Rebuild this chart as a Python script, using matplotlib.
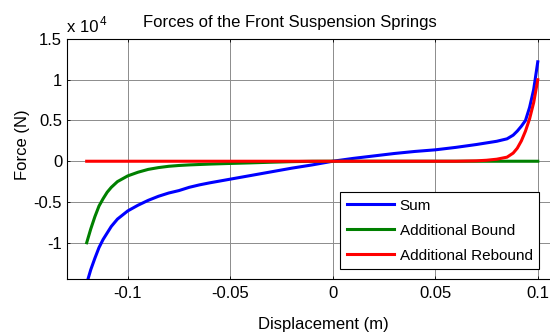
import matplotlib
matplotlib.use("Agg")
import matplotlib.pyplot as plt

plt.rcParams['font.family'] = ['Liberation Sans', 'DejaVu Sans']
plt.rcParams['axes.unicode_minus'] = False

# Displacement (m)
displacement = [-0.12, -0.118, -0.116, -0.114, -0.112, -0.11, -0.108, -0.105, -0.1,
                -0.095, -0.09, -0.085, -0.08, -0.075, -0.07, -0.065, -0.06, -0.05,
                -0.04, -0.03, -0.02, -0.01, 0.0, 0.01, 0.02, 0.03, 0.04, 0.05, 0.06,
                0.07, 0.075, 0.08, 0.085, 0.088, 0.09, 0.092, 0.094, 0.096, 0.098, 0.1]

# Forces in units of 1e4 N
force_sum = [-1.5, -1.33, -1.19, -1.06, -0.96, -0.88, -0.80, -0.71, -0.61,
             -0.54, -0.48, -0.43, -0.39, -0.36, -0.32, -0.29, -0.265, -0.22,
             -0.175, -0.13, -0.085, -0.045, 0.0, 0.035, 0.065, 0.095, 0.12, 0.14, 0.17,
             0.205, 0.225, 0.245, 0.275, 0.32, 0.37, 0.43, 0.50, 0.66, 0.88, 1.22]

force_bound = [-1.0, -0.83, -0.68, -0.55, -0.46, -0.38, -0.32, -0.25, -0.18,
               -0.135, -0.10, -0.078, -0.062, -0.052, -0.045, -0.04, -0.035, -0.027,
               -0.02, -0.012, -0.005, -0.001, 0.0, 0.0, 0.0, 0.0, 0.0, 0.0, 0.0,
               0.0, 0.0, 0.0, 0.0, 0.0, 0.0, 0.0, 0.0, 0.0, 0.0, 0.0]

force_rebound = [0.0, 0.0, 0.0, 0.0, 0.0, 0.0, 0.0, 0.0, 0.0,
                 0.0, 0.0, 0.0, 0.0, 0.0, 0.0, 0.0, 0.0, 0.0,
                 0.0, 0.0, 0.0, 0.0, 0.0, 0.0, 0.0, 0.0, 0.0, 0.0, 0.0,
                 0.005, 0.012, 0.025, 0.05, 0.10, 0.16, 0.25, 0.37, 0.52, 0.72, 1.0]

series_labels = ['Sum', 'Additional Bound', 'Additional Rebound']
x_ticks = [-0.1, -0.05, 0, 0.05, 0.1]
x_tick_labels = ['-0.1', '-0.05', '0', '0.05', '0.1']
y_ticks = [-1, -0.5, 0, 0.5, 1, 1.5]
y_tick_labels = ['-1', '-0.5', '0', '0.5', '1', '1.5']

W, H = 550, 333
fig = plt.figure(figsize=(W / 100, H / 100), dpi=100)

def fx(px):
    return px / W

def fy(py):
    return 1 - py / H

left_px, right_px, top_px, bottom_px = 67, 555, 39, 279
ax = fig.add_axes([fx(left_px), fy(bottom_px), (right_px - left_px) / W, (bottom_px - top_px) / H])

ax.plot(displacement, force_sum, color='#0000ff', lw=2.2, label=series_labels[0])
ax.plot(displacement, force_bound, color='#008000', lw=2.2, label=series_labels[1])
ax.plot(displacement, force_rebound, color='#ff0000', lw=2.2, label=series_labels[2])

ax.set_xlim(-0.1296, 0.1084)
ax.set_ylim(-1.445, 1.5)
ax.set_xticks(x_ticks)
ax.set_xticklabels(x_tick_labels)
ax.set_yticks(y_ticks)
ax.set_yticklabels(y_tick_labels)
ax.tick_params(direction='in', top=True, right=True, length=2.2, width=0.6,
               labelsize=12, colors='black')
ax.tick_params(axis='x', pad=5)
ax.tick_params(axis='y', pad=3.5)
ax.grid(True, color='#8c8c8c', lw=0.7)
ax.set_axisbelow(True)
for sp in ax.spines.values():
    sp.set_linewidth(0.8)
    sp.set_color('black')

leg = ax.legend(loc='upper left', bbox_to_anchor=(fx(340), fy(191.7)),
                bbox_transform=fig.transFigure, borderaxespad=0,
                fontsize=11, fancybox=False, framealpha=1, edgecolor='black',
                handlelength=3.1, handletextpad=0.35, borderpad=0.45,
                labelspacing=0.72)
leg.get_frame().set_linewidth(0.8)

fig.text(fx(290), fy(27.3), 'Forces of the Front Suspension Springs',
         ha='center', va='baseline', fontsize=12)
fig.text(fx(323.5), fy(329), 'Displacement (m)', ha='center', va='baseline', fontsize=12)
fig.text(fx(22), fy(145), 'Force (N)', ha='center', va='center', rotation=90, fontsize=12)
fig.text(fx(67), fy(32), 'x 10', ha='left', va='baseline', fontsize=12)
fig.text(fx(99.5), fy(25), '4', ha='left', va='baseline', fontsize=8.5)

fig.savefig('out.png', dpi=100)
